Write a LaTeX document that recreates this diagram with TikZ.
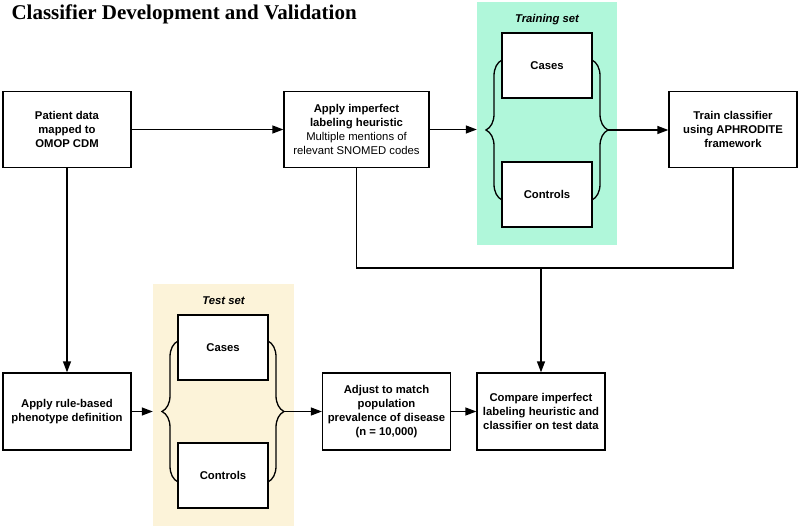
\documentclass[tikz,border=0pt]{standalone}
\usepackage{fontspec}
\setmainfont{Liberation Sans}
\newfontfamily\titlefont{Liberation Serif}
\usetikzlibrary{arrows.meta,decorations.pathreplacing}
\definecolor{trainfill}{RGB}{176,247,218}
\definecolor{testfill}{RGB}{252,243,217}

\tikzset{box/.style = {shape = rectangle,
                       draw,
                       line width = 1.3pt,
                       fill = white,
                       align = center,
                       inner sep = 2pt,
                       minimum width = 128pt,
                       minimum height = 76pt,
                       font = \fontsize{11.3}{14}\selectfont\bfseries},
         setbox/.style = {box,
                          minimum width = 90pt,
                          minimum height = 65pt},
         setarea/.style = {shape = rectangle,
                           inner sep = 0pt},
         setlabel/.style = {font = \fontsize{11.3}{14}\selectfont\bfseries\itshape},
         flow/.style = {line width = 1.3pt,
                        -{Triangle[length=11pt,width=8pt]}},
         wire/.style = {line width = 1.3pt},
         curly/.style = {line width = 1.3pt,
                         decorate,
                         decoration = {brace, amplitude = 16pt}}}

\begin{document}
\begin{tikzpicture}[x=1pt, y=-1pt]
    \useasboundingbox (0,0) rectangle (800,529);

    % title
    \node[anchor=base west, font=\titlefont\bfseries\fontsize{21}{25}\selectfont] (title) at (8,20)
        {Classifier Development and Validation};

    % training set
    \node[setarea, fill=trainfill, minimum width=140pt, minimum height=243pt] (trainset) at (547,123.5) {};
    \node[setlabel] (trainlabel) at (547,20) {Training set};
    \node[setbox] (tcases) at (547,65.5) {Cases};
    \node[setbox] (tcontrols) at (547,194.5) {Controls};
    \draw[curly] (502,200) -- (502,60);
    \draw[curly] (592,60) -- (592,200);
    \coordinate (tbr) at (608,130);

    % test set
    \node[setarea, fill=testfill, minimum width=141pt, minimum height=242pt] (testset) at (223.5,405) {};
    \node[setlabel] (testlabel) at (223.5,301) {Test set};
    \node[setbox] (scases) at (223,347.5) {Cases};
    \node[setbox] (scontrols) at (223,475.5) {Controls};
    \draw[curly] (178,482) -- (178,341);
    \draw[curly] (268,341) -- (268,482);
    \coordinate (sbr) at (284,411.5);

    % steps
    \node[box] (pdata) at (67,129.5) {Patient data\\mapped to\\OMOP CDM};
    \node[box, minimum width=145pt] (heur) at (356.5,129.5)
        {Apply imperfect\\labeling heuristic\\\mdseries Multiple mentions of\\\mdseries relevant SNOMED codes};
    \node[box] (train) at (733,129.5) {Train classifier\\using APHRODITE\\framework};
    \node[box, minimum height=77pt] (rule) at (67,411.5) {Apply rule-based\\phenotype definition};
    \node[box, minimum height=77pt] (adjust) at (386.5,411.5)
        {Adjust to match\\population\\prevalence of disease\\(n = 10,000)};
    \node[box, minimum height=77pt] (compare) at (541,411.5)
        {Compare imperfect\\labeling heuristic and\\classifier on test data};

    % connectors
    \coordinate (join) at (541,268);
    \draw[flow] (pdata) -- (heur);
    \draw[flow] (heur.east) -- (heur.east -| trainset.west);
    \draw[flow] (tbr) -- (tbr -| train.west);
    \draw[flow] (pdata) -- (rule);
    \draw[flow] (rule.east) -- (rule.east -| testset.west);
    \draw[flow] (sbr) -- (sbr -| adjust.west);
    \draw[flow] (adjust) -- (compare);
    \draw[wire] (heur.south) |- (join);
    \draw[wire] (train.south) |- (join);
    \draw[flow] (join) -- (compare.north);
\end{tikzpicture}
\end{document}
